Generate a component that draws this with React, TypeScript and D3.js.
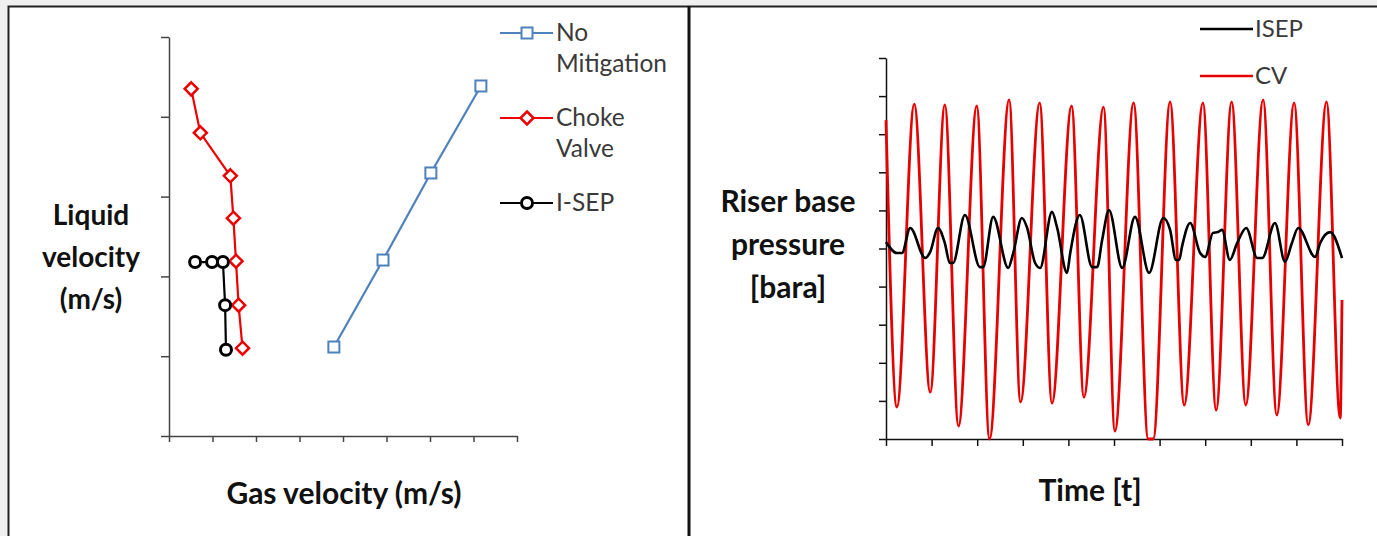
import React, { useEffect, useRef } from 'react';
import * as d3 from 'd3';

// Left chart: liquid velocity vs gas velocity (axes carry no numbers)
const gasTicks = [0, 1, 2, 3, 4, 5, 6, 7, 8];
const liquidTicks = [0, 1, 2, 3, 4, 5];

const noMitigationGas = [3.79, 4.92, 6.02, 7.17];
const noMitigationLiquid = [1.115, 2.205, 3.296, 4.386];

const chokeGas = [0.51, 0.72, 1.41, 1.48, 1.54, 1.6, 1.69];
const chokeLiquid = [4.35, 3.8, 3.26, 2.73, 2.19, 1.64, 1.1];

const isepGas = [1.31, 1.29, 1.24, 0.99, 0.6];
const isepLiquid = [1.08, 1.64, 2.18, 2.18, 2.18];

// Right chart: riser base pressure vs time
const timeTicks = [0, 1, 2, 3, 4, 5, 6, 7, 8, 9, 10];
const pressureTicks = [0, 1, 2, 3, 4, 5, 6, 7, 8, 9, 10];

const cvTime = [0, 0.24, 0.62, 0.97, 1.29, 1.59, 1.99, 2.27, 2.7, 2.95, 3.37, 3.64, 4.07, 4.34, 4.77, 5.02,
  5.43, 5.75, 5.86, 6.23, 6.54, 6.95, 7.24, 7.58, 7.89, 8.27, 8.57, 8.95, 9.26, 9.66, 9.96, 10];
const cvPressure = [8.37, 0.84, 8.79, 1.23, 8.77, 0.34, 8.74, 0, 8.9, 0.97, 8.82, 0.94, 8.74, 1.1, 8.71, 0.21,
  8.82, 0, 0, 8.85, 0.89, 8.82, 0.76, 8.85, 0.89, 8.9, 0.63, 8.82, 0.37, 8.85, 0.55, 3.65];

const isepTime = [0, 0.24, 0.35, 0.53, 0.86, 0.97, 1.14, 1.29, 1.4, 1.47, 1.73, 2.06, 2.13, 2.35, 2.68, 2.79,
  2.98, 3.09, 3.27, 3.38, 3.64, 3.75, 3.97, 4.04, 4.25, 4.52, 4.63, 4.74, 4.89, 5.18, 5.46, 5.77, 6.08, 6.23,
  6.36, 6.43, 6.49, 6.67, 6.89, 7.0, 7.17, 7.28, 7.37, 7.54, 7.7, 7.9, 8.14, 8.25, 8.53, 8.75, 8.9, 9.04,
  9.41, 9.52, 9.74, 10];
const isepPressure = [5.17, 4.88, 4.88, 5.54, 4.75, 4.91, 5.54, 5.14, 4.62, 4.62, 5.88, 4.51, 4.51, 5.83, 4.49,
  4.88, 5.8, 5.56, 4.62, 4.49, 5.96, 5.56, 4.36, 4.88, 5.88, 4.51, 4.51, 5.22, 6.01, 4.49, 5.83, 4.36, 5.8,
  5.49, 4.7, 4.7, 5.04, 5.67, 4.88, 4.78, 5.41, 5.43, 5.49, 4.7, 5.14, 5.54, 4.75, 4.75, 5.67, 4.65, 5.14,
  5.54, 4.78, 5.14, 5.43, 4.75];

const FONT = "Lato, 'Open Sans', sans-serif";
const W = 1377;
const H = 536;

const zip = (a: number[], b: number[]): [number, number][] => a.map((v, i) => [v, b[i]]);

const App = () => {
  const svgRef = useRef<SVGSVGElement>(null);

  useEffect(() => {
    const svg = d3.select(svgRef.current);
    svg.selectAll('*').remove();

    // page background + panel frames
    svg.append('rect').attr('width', W).attr('height', H).attr('fill', '#f0f0f0');
    svg.append('rect').attr('x', 8).attr('y', 6).attr('width', W).attr('height', H).attr('fill', '#fff');
    svg.append('path').attr('d', `M8.5,${H}V6.5H${W}`).attr('fill', 'none').attr('stroke', '#222').attr('stroke-width', 2);
    svg.append('line').attr('x1', 689).attr('x2', 689).attr('y1', 6).attr('y2', H)
      .attr('stroke', '#111').attr('stroke-width', 3);

    const styleAxis = (g: any, color: string) => {
      g.selectAll('path, line').attr('stroke', color).attr('stroke-width', 1.5);
      g.selectAll('text').remove();
    };

    // ---------- left chart ----------
    const xL = d3.scaleLinear().domain([0, 8]).range([169, 517]);
    const yL = d3.scaleLinear().domain([0, 5]).range([436, 37]);

    svg.append('g').attr('transform', `translate(0,${yL(0)})`)
      .call(d3.axisBottom(xL).tickValues(gasTicks).tickSize(6).tickSizeOuter(0).tickFormat(() => ''))
      .call((g: any) => styleAxis(g, '#444'));
    svg.append('g').attr('transform', `translate(${xL(0)},0)`)
      .call(d3.axisLeft(yL).tickValues(liquidTicks).tickSize(8).tickSizeOuter(0).tickFormat(() => ''))
      .call((g: any) => styleAxis(g, '#444'));

    const lineL = d3.line<[number, number]>().x(d => xL(d[0])).y(d => yL(d[1]));

    const seriesL = [
      { name: 'No', name2: 'Mitigation', gas: noMitigationGas, liq: noMitigationLiquid, color: '#4f81bd', marker: 'square', ly: 33 },
      { name: 'Choke', name2: 'Valve', gas: chokeGas, liq: chokeLiquid, color: '#ee0000', marker: 'diamond', ly: 118 },
      { name: 'I-SEP', name2: '', gas: isepGas, liq: isepLiquid, color: '#000', marker: 'circle', ly: 203 },
    ];

    const drawMarker = (g: any, kind: string, x: number, y: number, color: string) => {
      if (kind === 'square') {
        g.append('rect').attr('x', x - 5.5).attr('y', y - 5.5).attr('width', 11).attr('height', 11)
          .attr('fill', '#fff').attr('stroke', color).attr('stroke-width', 2);
      } else if (kind === 'diamond') {
        g.append('path').attr('d', `M${x},${y - 6.5}L${x + 6.5},${y}L${x},${y + 6.5}L${x - 6.5},${y}Z`)
          .attr('fill', '#fff').attr('stroke', color).attr('stroke-width', 2.5);
      } else {
        g.append('circle').attr('cx', x).attr('cy', y).attr('r', 5.5)
          .attr('fill', '#fff').attr('stroke', color).attr('stroke-width', 3);
      }
    };

    seriesL.forEach(s => {
      const pts = zip(s.gas, s.liq);
      svg.append('path').attr('d', lineL(pts)).attr('fill', 'none')
        .attr('stroke', s.color).attr('stroke-width', 2.2);
      const mg = svg.append('g');
      pts.forEach(p => drawMarker(mg, s.marker, xL(p[0]), yL(p[1]), s.color));

      // legend entry
      svg.append('line').attr('x1', 500).attr('x2', 553).attr('y1', s.ly).attr('y2', s.ly)
        .attr('stroke', s.color).attr('stroke-width', 2.2);
      drawMarker(svg, s.marker, 527, s.ly, s.color);
      const t = svg.append('text').attr('x', 556).attr('y', s.ly + 8)
        .attr('font-family', FONT).attr('font-size', 24.5).attr('fill', '#3a3a3a');
      t.append('tspan').attr('x', 556).text(s.name);
      if (s.name2) t.append('tspan').attr('x', 556).attr('dy', 31).text(s.name2);
    });

    const boldText = (x: number, y: number, lines: string[], dy: number, size: number) => {
      const t = svg.append('text').attr('text-anchor', 'middle').attr('font-family', FONT)
        .attr('font-weight', 'bold').attr('font-size', size).attr('fill', '#111').attr('y', y);
      lines.forEach((l, i) => t.append('tspan').attr('x', x).attr('dy', i === 0 ? 0 : dy).text(l));
    };
    boldText(91, 225, ['Liquid', 'velocity', '(m/s)'], 42, 28);
    boldText(344, 504, ['Gas velocity (m/s)'], 0, 30);

    // ---------- right chart ----------
    const xR = d3.scaleLinear().domain([0, 10]).range([886, 1342]);
    const yR = d3.scaleLinear().domain([0, 10]).range([439, 58]);

    svg.append('g').attr('transform', `translate(0,${yR(0)})`)
      .call(d3.axisBottom(xR).tickValues(timeTicks).tickSize(7).tickSizeOuter(0).tickFormat(() => ''))
      .call((g: any) => styleAxis(g, '#111'));
    svg.append('g').attr('transform', `translate(${xR(0)},0)`)
      .call(d3.axisLeft(yR).tickValues(pressureTicks).tickSize(7).tickSizeOuter(0).tickFormat(() => ''))
      .call((g: any) => styleAxis(g, '#111'));

    const lineR = d3.line<[number, number]>().x(d => xR(d[0])).y(d => yR(d[1])).curve(d3.curveMonotoneX);

    svg.append('path').attr('d', lineR(zip(cvTime, cvPressure))).attr('fill', 'none')
      .attr('stroke', '#e60000').attr('stroke-width', 2.8).attr('stroke-linejoin', 'round');
    svg.append('path').attr('d', lineR(zip(isepTime, isepPressure))).attr('fill', 'none')
      .attr('stroke', '#000').attr('stroke-width', 2.6).attr('stroke-linejoin', 'round');

    const legendR = [
      { name: 'ISEP', color: '#000', ly: 29 },
      { name: 'CV', color: '#e60000', ly: 76 },
    ];
    legendR.forEach(s => {
      svg.append('line').attr('x1', 1200).attr('x2', 1253).attr('y1', s.ly).attr('y2', s.ly)
        .attr('stroke', s.color).attr('stroke-width', 2.6);
      svg.append('text').attr('x', 1255).attr('y', s.ly + 8).attr('font-family', FONT)
        .attr('font-size', 24).attr('fill', '#3a3a3a').text(s.name);
    });

    boldText(788, 212, ['Riser base', 'pressure', '[bara]'], 43, 30);
    boldText(1090, 501, ['Time [t]'], 0, 30);
  }, []);

  return (
    <svg ref={svgRef} width={W} height={H}
      style={{ position: 'absolute', left: 0, top: 0, display: 'block' }} />
  );
};

export default App;
